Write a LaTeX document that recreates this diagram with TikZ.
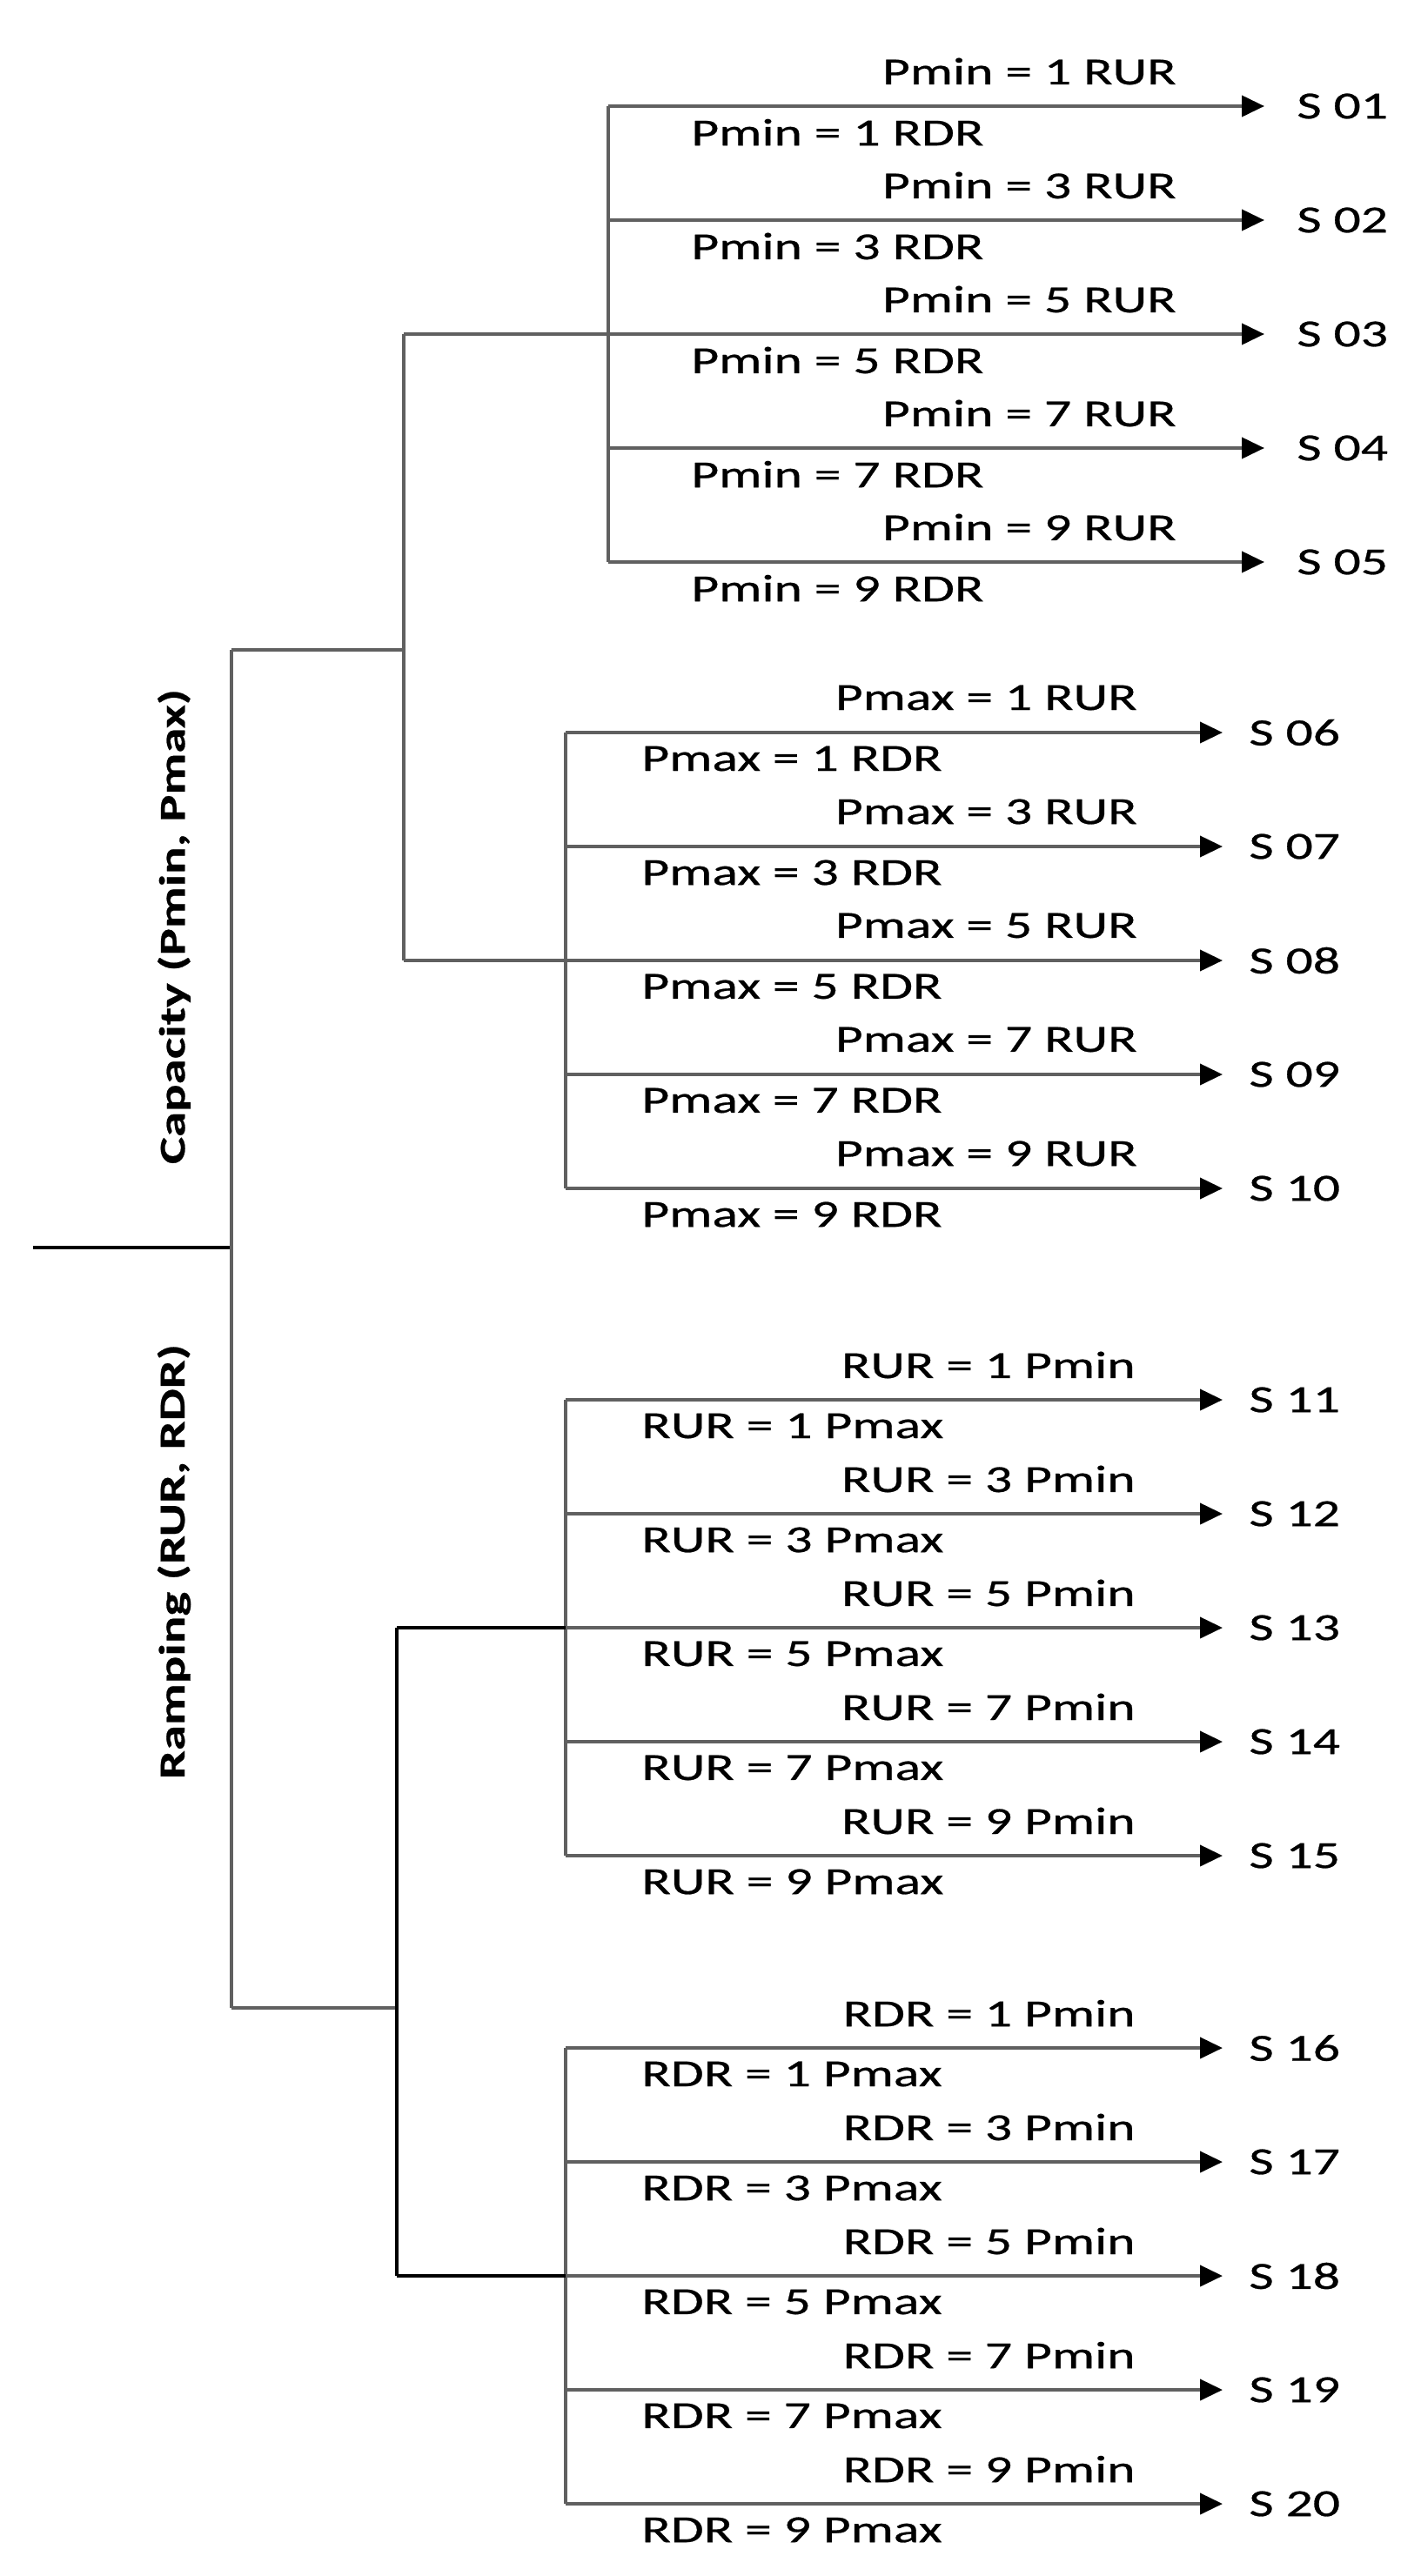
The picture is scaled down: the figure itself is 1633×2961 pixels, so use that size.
\documentclass[tikz,border=0pt]{standalone}
\usepackage{fontspec}
\setmainfont{Carlito}[FakeStretch=1.4,FakeBold=0.6]
\usetikzlibrary{arrows.meta}
\tikzset{
  ln/.style={line width=2pt,draw=gray!75!black},
  lnb/.style={line width=2pt,draw=black},
  arr/.style={line width=2pt,draw=gray!75!black,-{Triangle[length=13pt,width=12pt,color=black]}},
  lab/.style={font=\fontsize{22}{25}\selectfont,inner sep=0pt,text=black},
  side/.style={font=\fontsize{21}{24}\selectfont\bfseries,inner sep=0pt,rotate=90,text=black},
}
\newcommand\mygroup[9]{%
  \coordinate (#1top) at (#2,#4);
  \coordinate (#1bot) at (#2,#4+4*131);
  \draw[ln] (#1top) -- (#1bot);
  \foreach \k [count=\i from 0] in {1,3,5,7,9}{
    \pgfmathtruncatemacro\sn{#3+\i}
    \coordinate (#1s\k) at (#2,#4+\i*131);
    \coordinate (#1e\k) at (#5,#4+\i*131);
    \draw[arr] (#1s\k) -- (#1e\k);
    \node[lab,anchor=west] (#1S\k) at (#6,#4+\i*131) {S \ifnum\sn<10 0\fi\sn};
    \node[lab,anchor=east] (#1U\k) at (#7,#4+\i*131-40) {#9{\k}{1}};
    \node[lab,anchor=west] (#1L\k) at (#8,#4+\i*131+30) {#9{\k}{2}};
  }
}
\newcommand\tPmin[2]{\ifnum#2=1 Pmin = #1 RUR\else Pmin = #1 RDR\fi}
\newcommand\tPmax[2]{\ifnum#2=1 Pmax = #1 RUR\else Pmax = #1 RDR\fi}
\newcommand\tRUR[2]{\ifnum#2=1 RUR = #1 Pmin\else RUR = #1 Pmax\fi}
\newcommand\tRDR[2]{\ifnum#2=1 RDR = #1 Pmin\else RDR = #1 Pmax\fi}
\begin{document}
\begin{tikzpicture}[x=0.5pt,y=-0.5pt]
\useasboundingbox (0,0) rectangle (1633,2961);
\mygroup{a}{699}{1}{122}{1453}{1490}{1352}{794}{\tPmin}
\mygroup{b}{650}{6}{842}{1405}{1435}{1307}{737}{\tPmax}
\mygroup{c}{650}{11}{1609}{1405}{1435}{1305}{737}{\tRUR}
\mygroup{d}{650}{16}{2354}{1405}{1435}{1305}{737}{\tRDR}
\coordinate (root) at (38,1434);
\coordinate (mj) at (266,1434);
\coordinate (mt) at (266,747);
\coordinate (mb) at (266,2308);
\coordinate (ct) at (464,384);
\coordinate (cm) at (464,747);
\coordinate (cb) at (464,1104);
\coordinate (rt) at (456,1871);
\coordinate (rm) at (456,2308);
\coordinate (rb) at (456,2616);
\draw[lnb] (root) -- (mj);
\draw[ln] (mt) -- (mb);
\draw[ln] (mt) -- (cm);
\draw[ln] (mb) -- (rm);
\draw[ln] (ct) -- (cb);
\draw[ln] (ct) -- (as5);
\draw[ln] (cb) -- (bs5);
\draw[lnb] (rt) -- (rb);
\draw[lnb] (rt) -- (cs5);
\draw[lnb] (rb) -- (ds5);
\node[side] (cap) at (200,1065) {Capacity (Pmin, Pmax)};
\node[side] (ramp) at (200,1795) {Ramping (RUR, RDR)};
\end{tikzpicture}
\end{document}
